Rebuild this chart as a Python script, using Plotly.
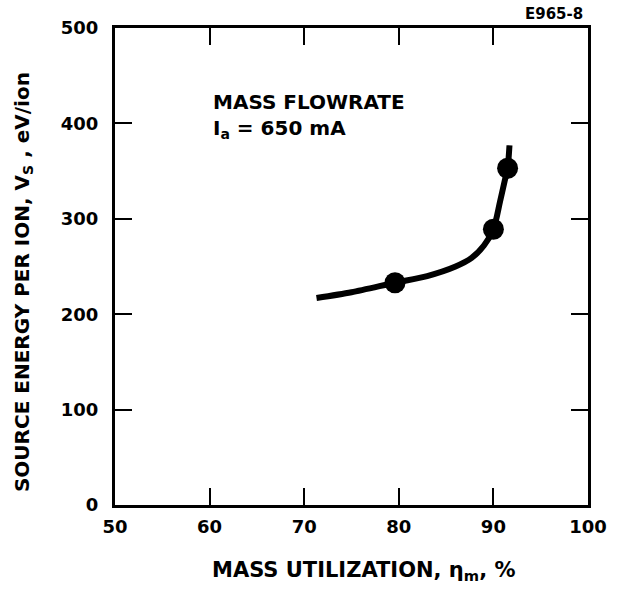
import plotly.graph_objects as go

# Measured data points
util_pts = [79.6, 90.0, 91.5]
energy_pts = [233, 289, 353]

# Fitted curve
curve_x = [71.3, 75.0, 79.6, 83.0, 86.0, 87.7, 89.0, 90.0, 90.7, 91.2, 91.5, 91.7]
curve_y = [217, 223, 233, 240, 250, 259, 272, 289, 318, 340, 353, 377]

x_ticks = [50, 60, 70, 80, 90, 100]
y_ticks = [0, 100, 200, 300, 400, 500]

FONT = "DejaVu Sans"

fig = go.Figure()
fig.add_trace(go.Scatter(
    x=curve_x, y=curve_y, mode="lines",
    line=dict(color="black", width=6, shape="spline", smoothing=0.8),
    hoverinfo="skip", showlegend=False))
fig.add_trace(go.Scatter(
    x=util_pts, y=energy_pts, mode="markers",
    marker=dict(color="black", size=21),
    showlegend=False))

axis_common = dict(
    showgrid=False, zeroline=False, showline=True, linecolor="black",
    linewidth=3, mirror="ticks", ticks="inside", ticklen=17, tickwidth=2,
    tickcolor="black", tickfont=dict(family=FONT, size=18, color="black", weight="bold"),
)

fig.update_xaxes(range=[50, 100], tickvals=x_ticks, ticktext=[str(t) for t in x_ticks],
                 ticklabelstandoff=3, **axis_common)
fig.update_yaxes(range=[0, 500], tickvals=y_ticks, ticktext=[str(t) for t in y_ticks],
                 ticklabelstandoff=10, **axis_common)

# Axis titles
fig.add_annotation(xref="paper", yref="paper", x=0.526, y=-0.138,
                   xanchor="center", yanchor="middle", showarrow=False,
                   text="<b>MASS UTILIZATION, η<sub>m</sub>, %</b>",
                   font=dict(family=FONT, size=21, color="black"))
fig.add_annotation(xref="paper", yref="paper", x=-0.196, y=0.468,
                   xanchor="center", yanchor="middle", showarrow=False, textangle=-90,
                   text="<b>SOURCE ENERGY PER ION, V<sub>S</sub> , eV/ion</b>",
                   font=dict(family=FONT, size=20, color="black"))

# In-plot label
fig.add_annotation(xref="x", yref="y", x=60.1, y=408, xanchor="left", yanchor="middle",
                   text="<b>MASS FLOWRATE<br>I<sub>a</sub> = 650 mA</b>", align="left",
                   showarrow=False, font=dict(family=FONT, size=20, color="black"))

# Figure code
fig.add_annotation(xref="paper", yref="paper", x=0.994, y=1.029, xanchor="right", yanchor="middle",
                   text="<b>E965-8</b>", showarrow=False,
                   font=dict(family=FONT, size=15, color="black"))

fig.update_layout(
    width=619, height=590,
    margin=dict(l=115, r=29, t=28, b=85),
    plot_bgcolor="white", paper_bgcolor="white",
    font=dict(family=FONT, color="black"),
)

fig.write_html("out.html", config={"displayModeBar": False},
               post_script="document.body.style.margin='0';")
